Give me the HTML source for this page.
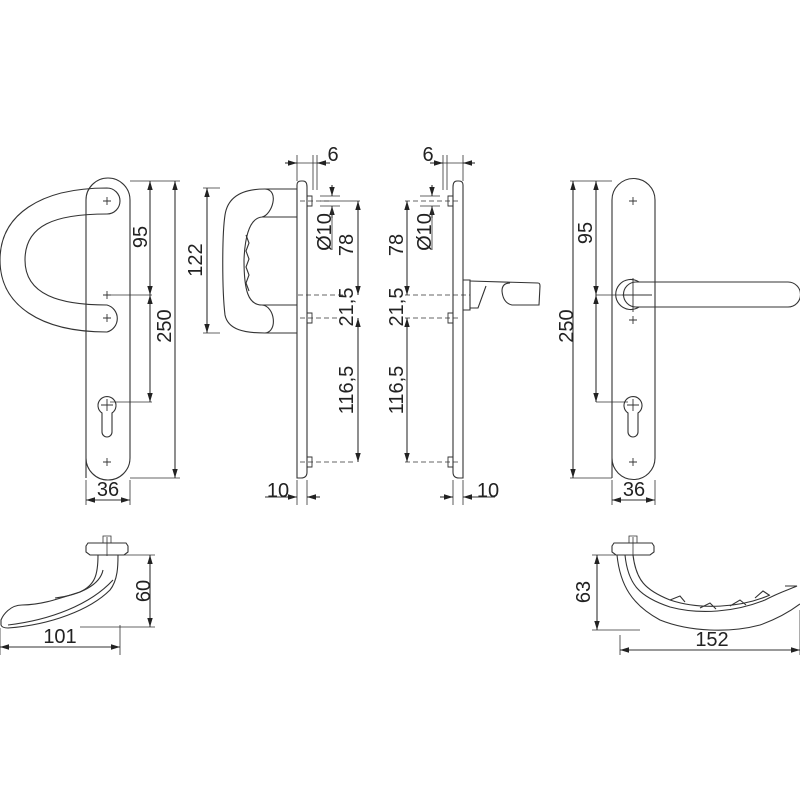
<!DOCTYPE html>
<html><head><meta charset="utf-8"><style>
html,body{margin:0;padding:0;background:#fff;}
svg{display:block}
text{font-family:"Liberation Sans",sans-serif;font-size:20px;fill:#222;}
</style></head><body>
<svg width="800" height="800" viewBox="0 0 800 800" xmlns="http://www.w3.org/2000/svg">
<defs>
<marker id="a" viewBox="0 0 10 10" refX="10" refY="5" markerWidth="9" markerHeight="9" orient="auto-start-reverse" markerUnits="userSpaceOnUse"><path d="M0,2 L10,5 L0,8 z" fill="#222"/></marker>
</defs>
<g fill="none" stroke="#333" stroke-width="1.1">
<!-- VIEW 1 -->
<path d="M86,478 L86,200 A22,22 0 0 1 130,200 L130,458 A22,22 0 0 1 86,458"/>
<path d="M107,188 C40,188 0,215 0,260 C0,305 40,332 107,332 A14,14 0 0 0 107,305 C60,305 25,295 25,260 C25,225 55,214 107,214 A13,13 0 0 0 107,188"/>
<path d="M102,413 A9,9 0 1 1 112,413 L112,432 A5,5 0 0 1 102,432 Z"/>
<g stroke-width="0.9"><path d="M103,201h8M107,197v8M103,295h8M107,291v8M103,318h8M107,314v8M103,462h8M107,458v8M101,405h12M107,399v12"/></g>
<path d="M130,181H180M130,478H180M110,295H152M110,402H152M86,480V505M130,480V505" stroke-width="0.8"/>
<path d="M150,181V295" marker-start="url(#a)" marker-end="url(#a)"/>
<path d="M150,295V402" marker-start="url(#a)" marker-end="url(#a)"/>
<path d="M175,181V478" marker-start="url(#a)" marker-end="url(#a)"/>
<path d="M86,500H130" marker-start="url(#a)" marker-end="url(#a)"/>

<!-- VIEW 2 -->
<path d="M297,478V185 Q297,181 301,181 L303,181 Q307,181 307,187 V472 Q307,478 301,478 Z"/>
<path d="M297,189 H265 C245,189 228,195 225,215 C222,235 222,290 225,315 C228,330 245,333 265,333 H297"/>
<path d="M265,189 C280,190 272,215 262,217 C250,218 245,235 244,260 C244,290 248,305 262,305 C275,306 278,332 265,333"/>
<path d="M262,217 H297 M262,305 H297"/>
<path d="M246,235 l3,8 l-3,8 l3,8 l-3,8 l3,8 l-3,8 l3,8"/>
<g stroke-width="0.9"><path d="M307,196h5v10h-5M307,313h5v10h-5M307,457h5v10h-5"/></g>
<path d="M298,295H345M300,201H330M300,318H345M300,462H355" stroke-width="0.8" stroke-dasharray="5,3"/>
<path d="M203,188H220M203,333H220M297,181V155M313,190V155M317,190V155M297,480V505M307,480V505M320,196H340M320,206H340M320,201H360" stroke-width="0.8"/>
<path d="M207,188V333" marker-start="url(#a)" marker-end="url(#a)"/>
<path d="M358,201V295" marker-start="url(#a)" marker-end="url(#a)"/>
<path d="M358,318V462" marker-start="url(#a)" marker-end="url(#a)"/>
<path d="M332,185V196" marker-end="url(#a)"/><path d="M332,218V206" marker-end="url(#a)"/><path d="M332,206V250" stroke-width="0.8"/>
<path d="M285,163H297" marker-end="url(#a)"/><path d="M330,163H317" marker-end="url(#a)"/><path d="M297,163H317" stroke-width="0.8"/>
<path d="M265,497H297" marker-end="url(#a)"/><path d="M320,497H307" marker-end="url(#a)"/>

<!-- VIEW 3 -->
<path d="M463,478V185 Q463,181 459,181 L457,181 Q453,181 453,187 V472 Q453,478 459,478 Z"/>
<g stroke-width="0.9"><path d="M453,196h-5v10h5M453,313h-5v10h5M453,457h-5v10h5"/></g>
<path d="M463,280 H470 V310 H463"/>
<path d="M470,281 L538,283 Q540,283 540,286 L539,305 L512,305 Q503,303 502,291 Q502,283 510,283"/>
<path d="M470,308 L478,308 L486,286"/>
<path d="M405,295H470M405,201H460M405,318H460M405,462H460" stroke-width="0.8" stroke-dasharray="5,3"/>
<path d="M463,181V155M447,190V155M443,190V155M453,480V505M463,480V505M420,196H440M420,206H440" stroke-width="0.8"/>
<path d="M407,201V295" marker-start="url(#a)" marker-end="url(#a)"/>
<path d="M407,318V462" marker-start="url(#a)" marker-end="url(#a)"/>
<path d="M432,185V196" marker-end="url(#a)"/><path d="M432,218V206" marker-end="url(#a)"/><path d="M432,206V250" stroke-width="0.8"/>
<path d="M430,163H443" marker-end="url(#a)"/><path d="M475,163H463" marker-end="url(#a)"/><path d="M443,163H463" stroke-width="0.8"/>
<path d="M440,497H453" marker-end="url(#a)"/><path d="M495,497H463" marker-end="url(#a)"/>

<!-- VIEW 4 -->
<path d="M612,478 L612,200 A21.5,21.5 0 0 1 655,200 L655,458 A21.5,21.5 0 0 1 612,458"/>
<path d="M639,282 A15,15 0 1 0 639,307"/>
<path d="M636,282 H788 A12.5,12.5 0 0 1 788,307 H636 A12.5,12.5 0 0 1 636,282"/>
<path d="M628,413 A9,9 0 1 1 638,413 L638,432 A5,5 0 0 1 628,432 Z"/>
<g stroke-width="0.9"><path d="M629,201h8M633,197v8M629,320h8M633,316v8M629,462h8M633,458v8M627,405h12M633,399v12M622,295h30M633,278v34"/></g>
<path d="M570,181H612M570,478H612M596,295H622M596,402H628M612,480V505M655,480V505" stroke-width="0.8"/>
<path d="M573,181V478" marker-start="url(#a)" marker-end="url(#a)"/>
<path d="M596,181V295" marker-start="url(#a)" marker-end="url(#a)"/>
<path d="M596,295V402" marker-start="url(#a)" marker-end="url(#a)"/>
<path d="M612,500H655" marker-start="url(#a)" marker-end="url(#a)"/>

<!-- BOTTOM LEFT -->
<path d="M88,543H126L128,546V552L124,555H90L86,552V546Z"/>
<path d="M103,543V536H111V543M107,537V556" stroke-width="0.8"/>
<path d="M98,555 C98,575 95,585 80,592 C55,600 40,605 22,605 C10,605 3,615 1,620 V625 Q2,628 8,628 C50,625 90,610 110,590 C118,580 118,565 118,555"/>
<path d="M103,570 C100,585 80,595 55,598 M8,625 C50,620 90,605 113,580"/>
<path d="M120,555H155M80,627H155M0,628V655M120,625V655" stroke-width="0.8"/>
<path d="M150,555V627" marker-start="url(#a)" marker-end="url(#a)"/>
<path d="M0,647H120" marker-start="url(#a)" marker-end="url(#a)"/>

<!-- BOTTOM RIGHT -->
<path d="M614,543H652L654,546V552L650,555H616L612,552V546Z"/>
<path d="M629,543V536H637V543M633,537V556" stroke-width="0.8"/>
<path d="M617,555 C620,585 632,605 660,620 C690,632 730,633 760,625 C780,618 792,610 800,604"/>
<path d="M625,555 C628,585 640,597 670,607 C700,615 735,612 765,600 C780,592 788,590 797,586 L785,586"/>
<path d="M633,555 C636,580 645,590 670,600 C700,610 740,608 770,595 M670,600 l10,-4 l5,6 M700,608 l10,-5 l6,6 M730,606 l10,-6 l6,5 M755,598 l8,-7 l6,4"/>
<path d="M592,555H617M592,630H640M620,635V655M800,610V655" stroke-width="0.8"/>
<path d="M597,555V630" marker-start="url(#a)" marker-end="url(#a)"/>
<path d="M620,650H800" marker-start="url(#a)" marker-end="url(#a)"/>
</g>

<text x="108" y="496" text-anchor="middle">36</text>
<text transform="translate(147,237) rotate(-90)" text-anchor="middle">95</text>
<text transform="translate(171,326) rotate(-90)" text-anchor="middle">250</text>
<text transform="translate(202,260) rotate(-90)" text-anchor="middle">122</text>
<text x="333" y="161" text-anchor="middle">6</text>
<text transform="translate(331,232) rotate(-90)" text-anchor="middle">Ø10</text>
<text transform="translate(353,245) rotate(-90)" text-anchor="middle">78</text>
<text transform="translate(353,307) rotate(-90)" text-anchor="middle">21,5</text>
<text transform="translate(353,390) rotate(-90)" text-anchor="middle">116,5</text>
<text x="278" y="497" text-anchor="middle">10</text>
<text x="428" y="161" text-anchor="middle">6</text>
<text transform="translate(431,232) rotate(-90)" text-anchor="middle">Ø10</text>
<text transform="translate(403,245) rotate(-90)" text-anchor="middle">78</text>
<text transform="translate(403,307) rotate(-90)" text-anchor="middle">21,5</text>
<text transform="translate(403,390) rotate(-90)" text-anchor="middle">116,5</text>
<text x="488" y="497" text-anchor="middle">10</text>
<text transform="translate(592,233) rotate(-90)" text-anchor="middle">95</text>
<text transform="translate(573,326) rotate(-90)" text-anchor="middle">250</text>
<text x="634" y="496" text-anchor="middle">36</text>
<text transform="translate(150,591) rotate(-90)" text-anchor="middle">60</text>
<text x="60" y="643" text-anchor="middle">101</text>
<text transform="translate(590,592) rotate(-90)" text-anchor="middle">63</text>
<text x="712" y="646" text-anchor="middle">152</text>
</svg>
</body></html>
